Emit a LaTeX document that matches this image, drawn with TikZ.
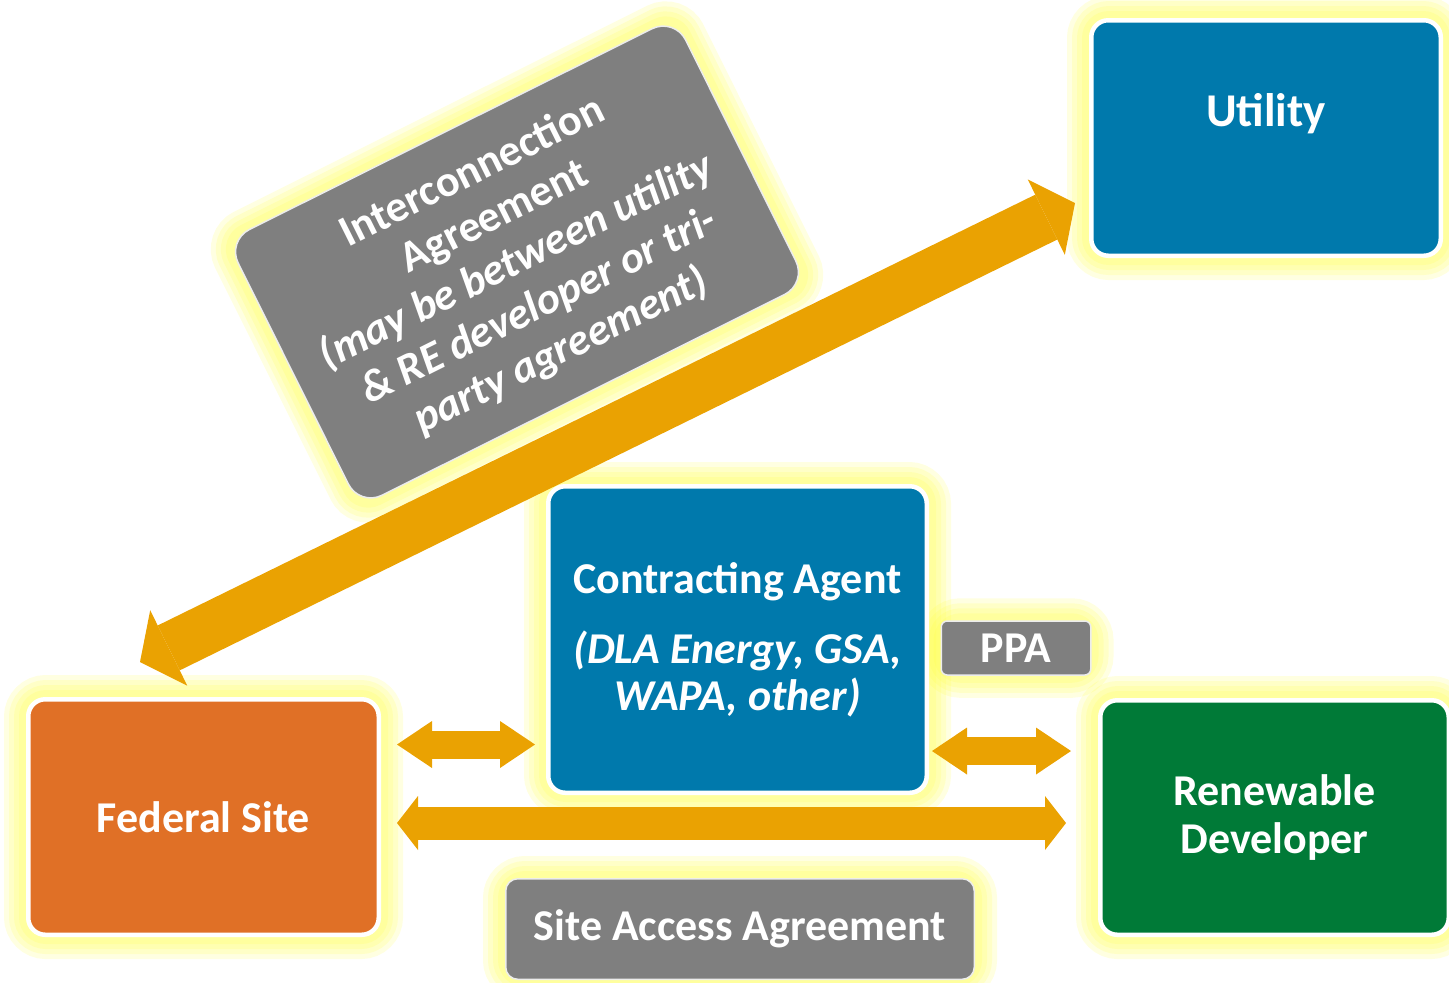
\documentclass[tikz,border=0pt]{standalone}
\usepackage{fontspec}
\setmainfont{Carlito}
\usetikzlibrary{arrows.meta}
\pgfdeclarelayer{background}
\pgfdeclarelayer{mid}
\pgfsetlayers{background,mid,main}

\definecolor{boxblue}{HTML}{0079AC}
\definecolor{boxorange}{HTML}{E07026}
\definecolor{boxgreen}{HTML}{007A37}
\definecolor{boxgray}{HTML}{7F7F7F}
\definecolor{arrowgold}{HTML}{EAA202}
\definecolor{glowyellow}{HTML}{FFFF33}

\tikzset{
  box/.style={draw=white, line width=2.25pt, rounded corners=8.5pt, text=white,
    font=\bfseries\fontsize{22pt}{24pt}\selectfont, align=center, inner sep=0pt},
  tagbox/.style={box, line width=0.75pt, draw=white!85!gray, fill=boxgray},
  glowline/.style={rounded corners=10pt,
    preaction={draw=glowyellow, draw opacity=0.15, line width=22pt},
    preaction={draw=glowyellow, draw opacity=0.15, line width=17pt},
    preaction={draw=glowyellow, draw opacity=0.15, line width=12pt},
    preaction={draw=glowyellow, draw opacity=0.15, line width=7pt}},
  bigarrow/.style={draw=arrowgold, line width=25pt,
    >={Triangle[width=42pt,length=16pt,line width=0pt]}, <->},
  smallarrow/.style={draw=arrowgold, line width=14pt,
    >={Triangle[width=23.5pt,length=17.5pt,line width=0pt]}, <->},
  longarrow/.style={draw=arrowgold, line width=16.5pt,
    >={Triangle[width=27pt,length=10.5pt,line width=0pt]}, <->},
}
\newcommand\glowof[1]{\path[glowline] (#1.south west) -- (#1.south east) -- (#1.north east) -- (#1.north west) -- cycle;}

\begin{document}
\begin{tikzpicture}[x=0.5pt,y=-0.5pt]
\useasboundingbox (0,0) rectangle (1449,982);

% boxes
\node[box, fill=boxblue, minimum width=174.75pt, minimum height=117.75pt,
      font=\bfseries\fontsize{23.5pt}{25pt}\selectfont,
      text height=16pt, text depth=27.25pt] (utility) at (1266,138) {Utility};
\node[box, fill=boxorange, minimum width=175.25pt, minimum height=117.75pt] (fed) at (203.5,817) {Federal Site};
\node[box, fill=boxgreen, minimum width=174.25pt, minimum height=117.25pt] (dev) at (1274.5,817.5) {Renewable\\Developer};
\node[box, fill=boxblue, minimum width=189.25pt, minimum height=153.25pt,
      font=\bfseries\fontsize{22pt}{23.5pt}\selectfont] (agent) at (737.5,639.5)
      {Contracting Agent\\[11.5pt]\textit{(DLA Energy, GSA,}\\\textit{WAPA, other)}};
\node[tagbox, rounded corners=3pt, minimum width=74.75pt, minimum height=27pt] (ppa) at (1016,648) {PPA};
\node[tagbox, rounded corners=6pt, minimum width=234.25pt, minimum height=50.25pt] (site) at (740,929) {Site Access Agreement};
\node[tagbox, rounded corners=12.5pt, rotate=26.5, minimum width=250pt, minimum height=148.5pt,
      font=\bfseries\fontsize{22pt}{25pt}\selectfont] (ic) at (517,262)
      {Interconnection\\Agreement\\\textit{(may be between utility}\\\textit{\& RE developer or tri-}\\\textit{party agreement)}};

% glows
\begin{pgfonlayer}{background}
\glowof{utility}\glowof{fed}\glowof{dev}\glowof{agent}\glowof{ppa}\glowof{site}\glowof{ic}
\end{pgfonlayer}

% connectors
\coordinate (d1) at (140,662);
\coordinate (d2) at (1075,203);
\coordinate (a1) at (397,744.5);
\coordinate (a2) at (535,744.5);
\coordinate (b1) at (932,751);
\coordinate (b2) at (1071,751);
\coordinate (c1) at (397,823);
\coordinate (c2) at (1066,823);
\begin{pgfonlayer}{mid}
\draw[bigarrow] (d1) -- (d2);
\draw[smallarrow] (a1) -- (a2);
\draw[smallarrow] (b1) -- (b2);
\draw[longarrow] (c1) -- (c2);
\end{pgfonlayer}
\end{tikzpicture}
\end{document}
